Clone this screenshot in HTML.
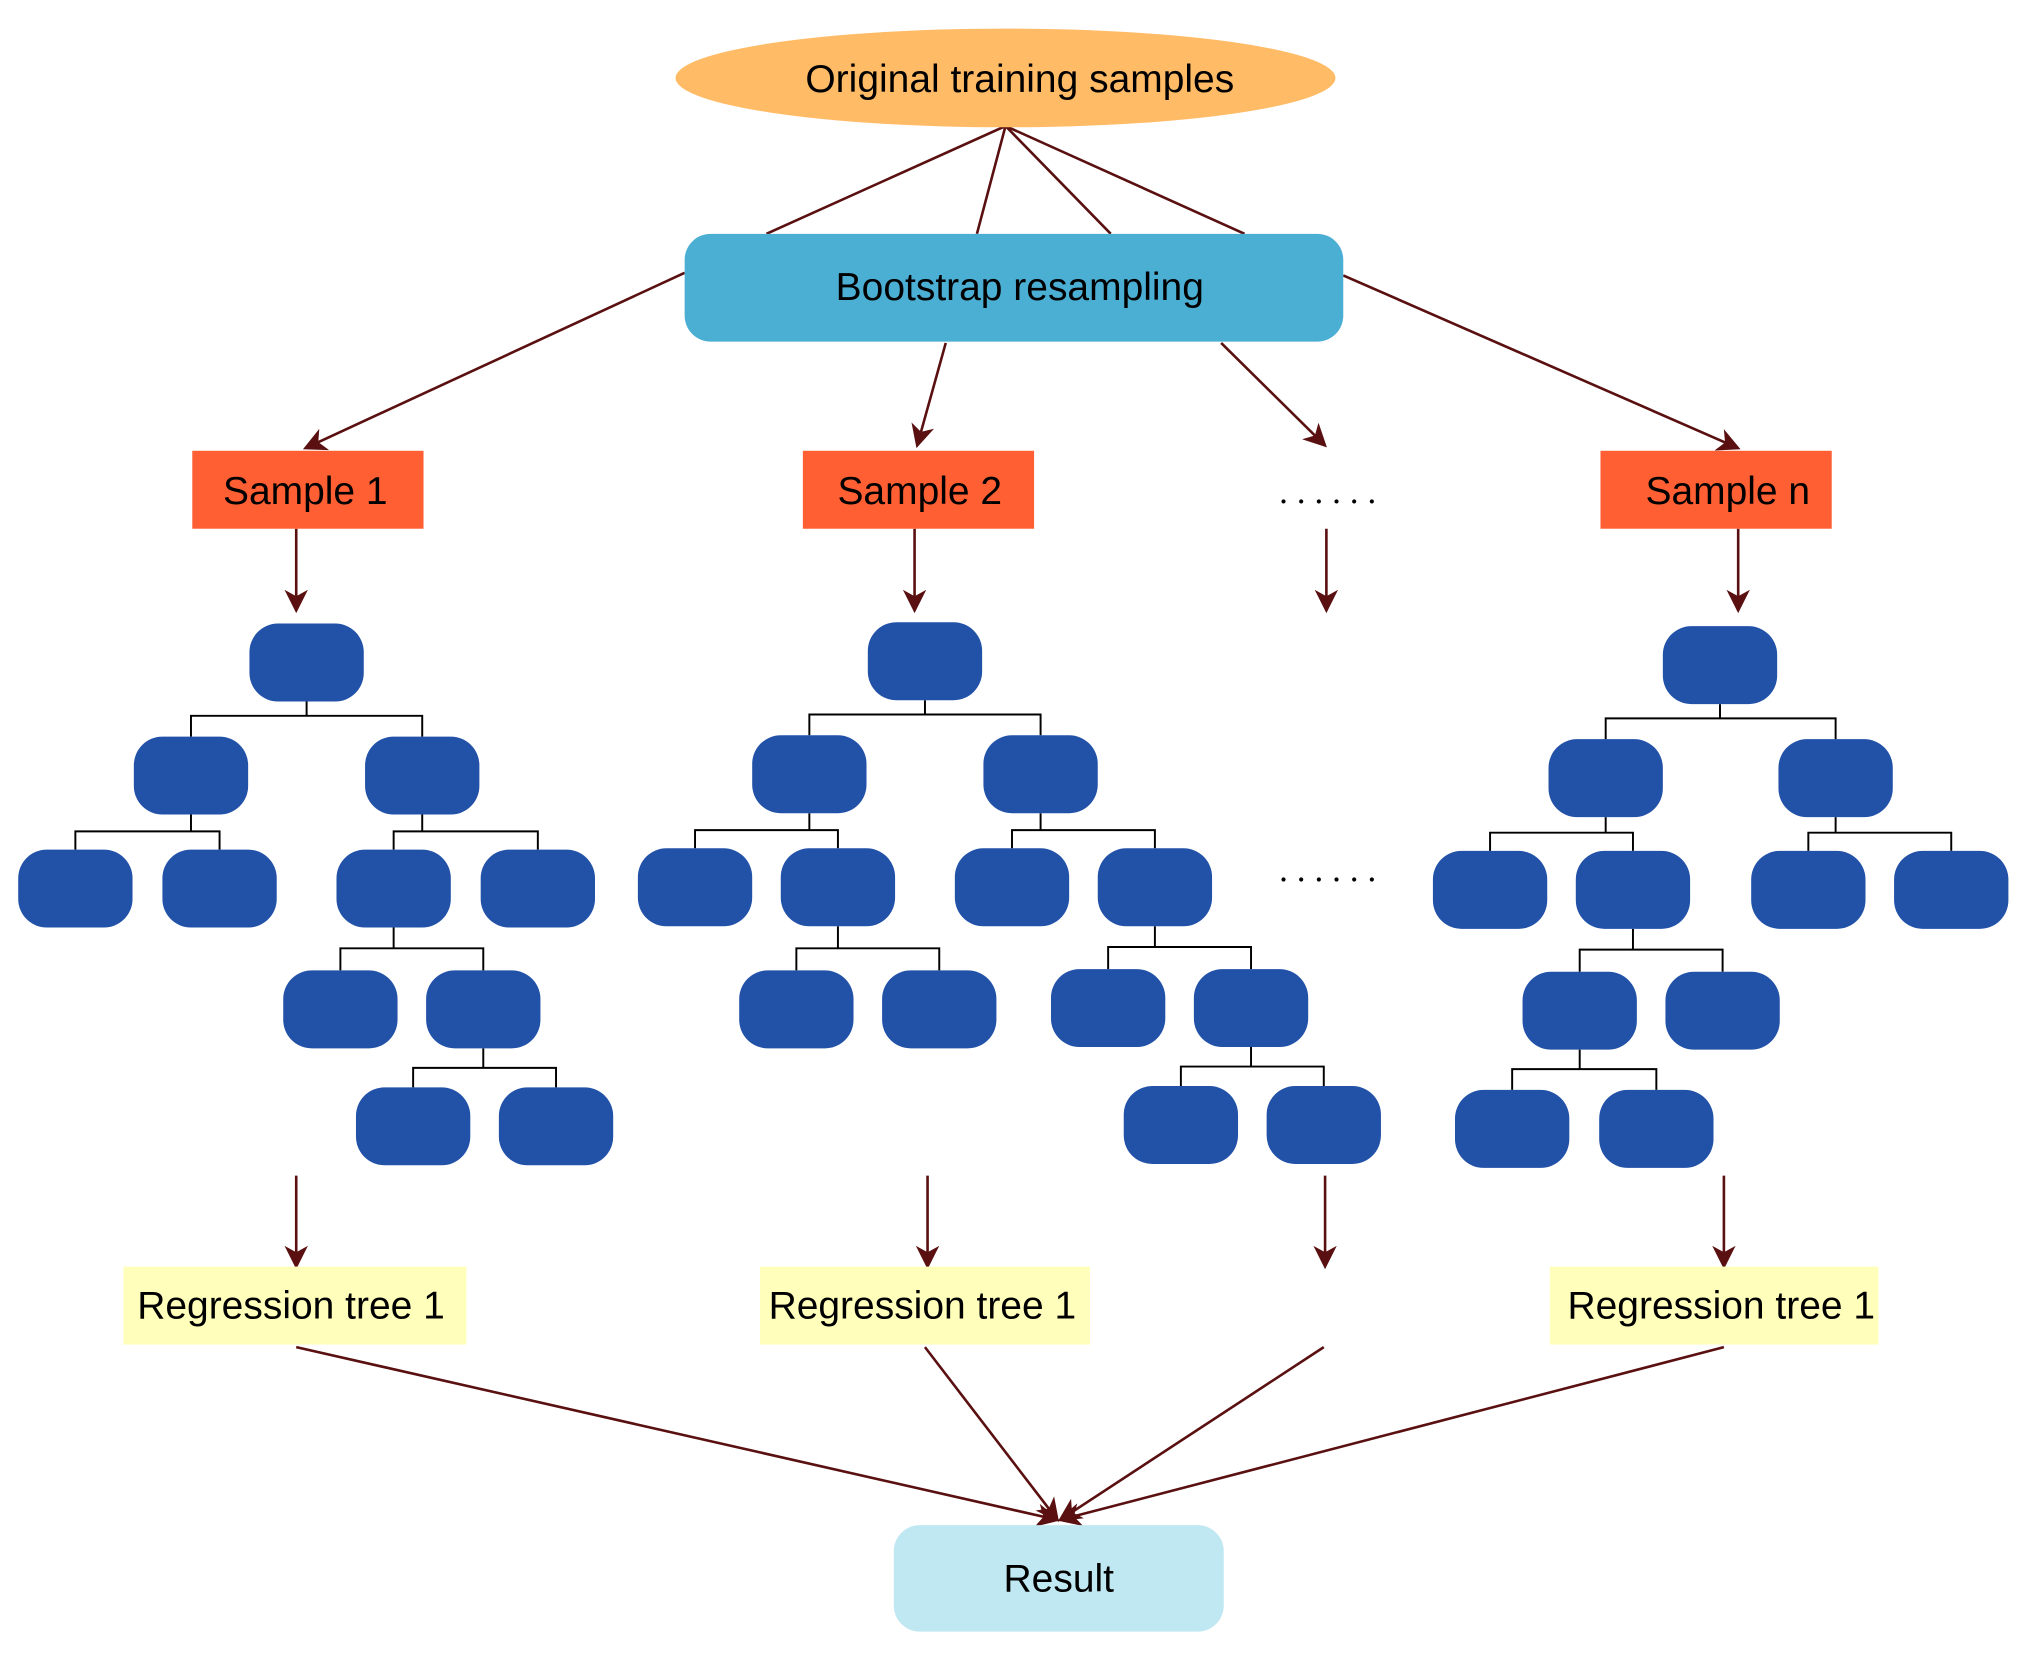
<!DOCTYPE html>
<html><head><meta charset="utf-8"><style>
html,body{margin:0;padding:0;background:#fff}
svg{display:block}
text{font-family:"Liberation Sans",Arial,sans-serif;fill:#000}
</style></head><body>
<svg width="2037" height="1661" viewBox="0 0 1568 1278.6" xmlns="http://www.w3.org/2000/svg">
<defs>
<marker id="b" markerWidth="18" markerHeight="18" refX="16" refY="9" orient="auto" markerUnits="userSpaceOnUse" viewBox="0 0 18 18">
<path d="M0,0 L18,9 L0,18 L5,9 z" fill="#5a1010"/></marker>
</defs>
<g stroke="#5a1010" stroke-width="2" fill="none">
<line x1="774" y1="97" x2="590" y2="180"/>
<line x1="774" y1="97" x2="752" y2="180"/>
<line x1="774" y1="97" x2="855" y2="180"/>
<line x1="774" y1="97" x2="958" y2="180"/>
<g marker-end="url(#b)">
<line x1="527" y1="210" x2="235" y2="345"/>
<line x1="728" y1="264" x2="706" y2="343"/>
<line x1="940" y1="264" x2="1020" y2="343"/>
<line x1="1034" y1="212" x2="1338" y2="345"/>
<line x1="228" y1="407" x2="228" y2="470"/>
<line x1="704" y1="407" x2="704" y2="470"/>
<line x1="1021" y1="407" x2="1021" y2="470"/>
<line x1="1338" y1="407" x2="1338" y2="470"/>
<line x1="228" y1="905" x2="228" y2="975"/>
<line x1="714" y1="905" x2="714" y2="975"/>
<line x1="1020" y1="905" x2="1020" y2="975"/>
<line x1="1327" y1="905" x2="1327" y2="975"/>
<line x1="228" y1="1037" x2="814" y2="1170"/>
<line x1="712" y1="1037" x2="814" y2="1170"/>
<line x1="1019" y1="1037" x2="816" y2="1170"/>
<line x1="1327" y1="1037" x2="816" y2="1170"/>
</g>
</g>
<ellipse cx="774" cy="60" rx="254" ry="38" fill="#FFBB66"/>
<text x="785" y="71" font-size="30" text-anchor="middle">Original training samples</text>
<rect x="527" y="180" width="507" height="83" rx="20" fill="#4BAED3"/>
<text x="785" y="231" font-size="30" text-anchor="middle">Bootstrap resampling</text>
<rect x="148" y="347" width="178" height="60" fill="#FF5F33"/>
<text x="235" y="388" font-size="30" text-anchor="middle">Sample 1</text>
<rect x="618" y="347" width="178" height="60" fill="#FF5F33"/>
<text x="708" y="388" font-size="30" text-anchor="middle">Sample 2</text>
<rect x="1232" y="347" width="178" height="60" fill="#FF5F33"/>
<text x="1330" y="388" font-size="30" text-anchor="middle">Sample n</text>
<g fill="#000">
<circle cx="988" cy="386" r="1.6"/><circle cx="1001.6" cy="386" r="1.6"/><circle cx="1015.2" cy="386" r="1.6"/><circle cx="1028.8" cy="386" r="1.6"/><circle cx="1042.4" cy="386" r="1.6"/><circle cx="1056" cy="386" r="1.6"/>
<circle cx="988" cy="677" r="1.6"/><circle cx="1001.6" cy="677" r="1.6"/><circle cx="1015.2" cy="677" r="1.6"/><circle cx="1028.8" cy="677" r="1.6"/><circle cx="1042.4" cy="677" r="1.6"/><circle cx="1056" cy="677" r="1.6"/>
</g>
<g stroke="#000" stroke-width="1.5" fill="none">
<path d="M236 540V551M147 567V551H325V567"/>
<path d="M147 627V640M58 654V640H169V654"/>
<path d="M325 627V640M303 654V640H414V654"/>
<path d="M303 714V730M262 747V730H372V747"/>
<path d="M372 807V822M318 837V822H428V837"/>
<path d="M712 539V550M623 566V550H801V566"/>
<path d="M623 626V639M535 653V639H645V653"/>
<path d="M801 626V639M779 653V639H889V653"/>
<path d="M645 713V730M613 747V730H723V747"/>
<path d="M889 713V729M853 746V729H963V746"/>
<path d="M963 806V821M909 836V821H1019V836"/>
<path d="M1324 542V553M1236 569V553H1413V569"/>
<path d="M1236 629V641M1147 655V641H1257V655"/>
<path d="M1413 629V641M1392 655V641H1502V655"/>
<path d="M1257 715V731M1216 748V731H1326V748"/>
<path d="M1216 808V823M1164 839V823H1275V839"/>
</g>
<g fill="#2251A8">
<rect x="192" y="480" width="88" height="60" rx="22"/>
<rect x="103" y="567" width="88" height="60" rx="22"/>
<rect x="281" y="567" width="88" height="60" rx="22"/>
<rect x="14" y="654" width="88" height="60" rx="22"/>
<rect x="125" y="654" width="88" height="60" rx="22"/>
<rect x="259" y="654" width="88" height="60" rx="22"/>
<rect x="370" y="654" width="88" height="60" rx="22"/>
<rect x="218" y="747" width="88" height="60" rx="22"/>
<rect x="328" y="747" width="88" height="60" rx="22"/>
<rect x="274" y="837" width="88" height="60" rx="22"/>
<rect x="384" y="837" width="88" height="60" rx="22"/>
<rect x="668" y="479" width="88" height="60" rx="22"/>
<rect x="579" y="566" width="88" height="60" rx="22"/>
<rect x="757" y="566" width="88" height="60" rx="22"/>
<rect x="491" y="653" width="88" height="60" rx="22"/>
<rect x="601" y="653" width="88" height="60" rx="22"/>
<rect x="735" y="653" width="88" height="60" rx="22"/>
<rect x="845" y="653" width="88" height="60" rx="22"/>
<rect x="569" y="747" width="88" height="60" rx="22"/>
<rect x="679" y="747" width="88" height="60" rx="22"/>
<rect x="809" y="746" width="88" height="60" rx="22"/>
<rect x="919" y="746" width="88" height="60" rx="22"/>
<rect x="865" y="836" width="88" height="60" rx="22"/>
<rect x="975" y="836" width="88" height="60" rx="22"/>
<rect x="1280" y="482" width="88" height="60" rx="22"/>
<rect x="1192" y="569" width="88" height="60" rx="22"/>
<rect x="1369" y="569" width="88" height="60" rx="22"/>
<rect x="1103" y="655" width="88" height="60" rx="22"/>
<rect x="1213" y="655" width="88" height="60" rx="22"/>
<rect x="1348" y="655" width="88" height="60" rx="22"/>
<rect x="1458" y="655" width="88" height="60" rx="22"/>
<rect x="1172" y="748" width="88" height="60" rx="22"/>
<rect x="1282" y="748" width="88" height="60" rx="22"/>
<rect x="1120" y="839" width="88" height="60" rx="22"/>
<rect x="1231" y="839" width="88" height="60" rx="22"/>
</g>
<g fill="#FFFFBB">
<rect x="95" y="975" width="264" height="60"/>
<rect x="585" y="975" width="254" height="60"/>
<rect x="1193" y="975" width="253" height="60"/>
</g>
<text x="224" y="1015" font-size="30" text-anchor="middle">Regression tree 1</text>
<text x="710" y="1015" font-size="30" text-anchor="middle">Regression tree 1</text>
<text x="1325" y="1015" font-size="30" text-anchor="middle">Regression tree 1</text>
<rect x="688" y="1174" width="254" height="82" rx="20" fill="#C0E8F3"/>
<text x="815" y="1225" font-size="30" text-anchor="middle">Result</text>
</svg>
</body></html>
